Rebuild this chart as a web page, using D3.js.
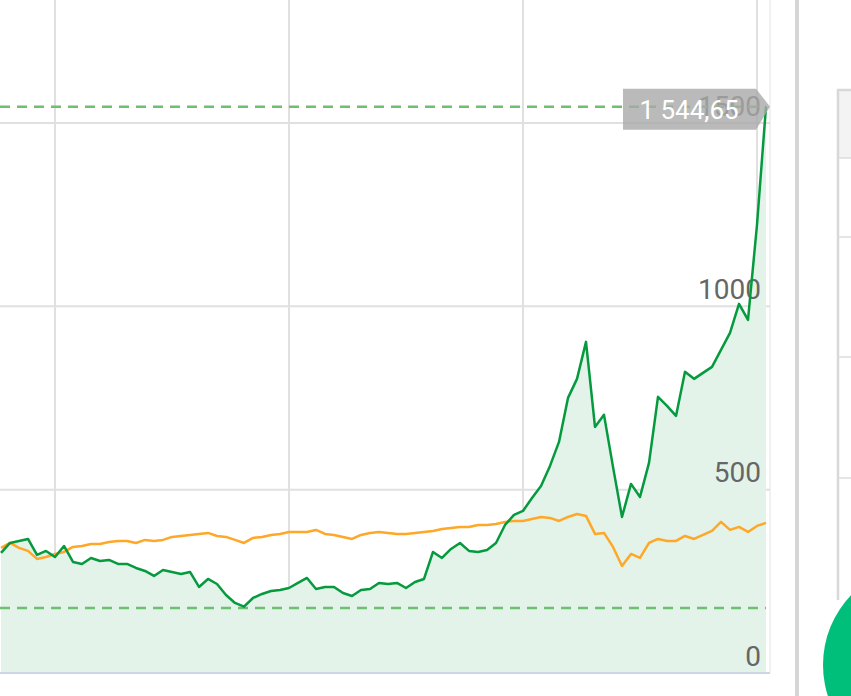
<!DOCTYPE html>
<html>
<head>
<meta charset="utf-8">
<script src="https://cdn.jsdelivr.net/npm/d3@7"></script>
<style>
  html, body { margin: 0; padding: 0; background: #fff; }
  svg { display: block; font-family: Roboto, "Noto Sans", sans-serif; }
</style>
</head>
<body>
<svg id="chart" width="851" height="696"></svg>
<script>
// ---- data ----
const priceSeries = [
  327.4, 354.7, 360.2, 365.6, 322, 332.9, 316.5, 346.5, 302.9, 297.4,
  313.8, 305.6, 308.3, 297.4, 297.4, 286.5, 278.3, 264.7, 281, 275.6,
  270.1, 275.6, 234.7, 256.5, 242.8, 212.8, 191, 181, 204.6, 215.6,
  223.7, 226.5, 231.9, 245.6, 259.2, 229.2, 234.7, 234.7, 218.3, 210.1,
  226.5, 229.2, 245.6, 242.8, 245.6, 231.9, 248.3, 256.5, 330.2, 313.8,
  338.3, 354.7, 332.9, 330.2, 335.6, 354.7, 403.8, 431.1, 442, 477.5,
  510.2, 564.8, 630.3, 750.3, 802.2, 903.1, 671.2, 704, 562.1, 425.6,
  515.7, 480.2, 573, 753.1, 728.5, 701.2, 821.3, 802.2, 818.6, 834.9,
  881.3, 927.7, 1006.8, 963.2, 1222.4, 1544.65
];
const benchmarkSeries = [
  341.1, 354.7, 341.1, 332.9, 311.1, 316.5, 324.7, 330.2, 343.8, 346.5,
  352, 352, 357.4, 360.2, 360.2, 354.7, 362.9, 360.2, 362.9, 371.1,
  373.8, 376.5, 379.3, 382, 373.8, 371.1, 362.9, 354.7, 368.3, 371.1,
  376.5, 379.3, 384.7, 384.7, 384.7, 390.2, 379.3, 376.5, 371.1, 365.6,
  376.5, 382, 384.7, 382, 379.3, 379.3, 382, 384.7, 387.4, 392.9,
  395.6, 398.4, 398.4, 403.8, 403.8, 406.5, 412, 414.7, 414.7, 420.2,
  425.6, 422.9, 414.7, 425.6, 433.8, 428.4, 379.3, 382, 343.8, 291.9,
  324.7, 313.8, 354.7, 365.6, 360.2, 360.2, 373.8, 365.6, 376.5, 387.4,
  412, 390.2, 398.4, 384.7, 401.1, 409.3
];
const yTickValues = [0, 500, 1000, 1500];
const yTickLabels = ["0", "500", "1000", "1500"];
const xGridIndices = [6, 32, 58, 84];
const highLevel = 1544.65;
const lowLevel = 177;
const lastLabel = "1 544,65";

// ---- layout ----
const svg = d3.select("#chart");
const plotLeft = 0, plotRight = 770, plotTop = 0, plotBottom = 673;

const x = d3.scaleLinear().domain([0, priceSeries.length - 1]).range([1, 766]);
const y = d3.scaleLinear().domain([0, 1500]).range([673, 123]);

// vertical gridlines
svg.append("g").selectAll("line").data(xGridIndices).join("line")
  .attr("x1", d => x(d)).attr("x2", d => x(d))
  .attr("y1", plotTop).attr("y2", plotBottom)
  .attr("stroke", "#e0e0e0").attr("stroke-width", 2);

// plot right border
svg.append("line").attr("x1", plotRight).attr("x2", plotRight)
  .attr("y1", 0).attr("y2", plotBottom)
  .attr("stroke", "#ececec").attr("stroke-width", 1.5);

// horizontal gridlines
svg.append("g").selectAll("line").data(yTickValues.filter(v => v > 0)).join("line")
  .attr("x1", plotLeft).attr("x2", plotRight)
  .attr("y1", d => y(d)).attr("y2", d => y(d))
  .attr("stroke", "#e0e0e0").attr("stroke-width", 2);

// area under price
const area = d3.area().x((d, i) => x(i)).y0(y(0)).y1(d => y(d));
svg.append("path").datum(priceSeries)
  .attr("d", area).attr("fill", "#e3f3ea");

// bottom axis line
svg.append("line").attr("x1", plotLeft).attr("x2", plotRight)
  .attr("y1", y(0)).attr("y2", y(0))
  .attr("stroke", "#ccd6eb").attr("stroke-width", 2);

// y tick labels
const yAxis = d3.axisLeft(y).tickValues(yTickValues)
  .tickFormat((d, i) => yTickLabels[i]).tickSize(0).tickPadding(0);
const gy = svg.append("g").attr("transform", "translate(761,0)").call(yAxis);
gy.select(".domain").remove();
gy.selectAll("text")
  .attr("font-family", "Roboto, sans-serif")
  .attr("font-size", 28).attr("fill", "#666")
  .attr("text-anchor", "end").attr("dy", "-0.28em");

// dashed high / low levels
svg.append("g").selectAll("line").data([highLevel, lowLevel]).join("line")
  .attr("x1", plotLeft).attr("x2", 766)
  .attr("y1", d => y(d)).attr("y2", d => y(d))
  .attr("stroke", "#6cc070").attr("stroke-width", 2.5)
  .attr("stroke-dasharray", "10,7");

// lines
const line = d3.line().x((d, i) => x(i)).y(d => y(d));
svg.append("path").datum(benchmarkSeries)
  .attr("d", line).attr("fill", "none")
  .attr("stroke", "#ffa726").attr("stroke-width", 2.5)
  .attr("stroke-linejoin", "round");
svg.append("path").datum(priceSeries)
  .attr("d", line).attr("fill", "none")
  .attr("stroke", "#069a3f").attr("stroke-width", 2.5)
  .attr("stroke-linejoin", "round");

// last value flag
const lastX = x(priceSeries.length - 1), lastY = y(priceSeries[priceSeries.length - 1]);
const boxL = 623, boxR = 756, boxT = lastY - 18, boxB = lastY + 23;
svg.append("path")
  .attr("d", `M${boxL},${boxT}H${boxR}L${lastX + 4},${lastY}L${boxR},${boxB}H${boxL}Z`)
  .attr("fill", "#a9a9a9").attr("fill-opacity", 0.8);
svg.append("text").attr("x", 689).attr("y", lastY + 12)
  .attr("text-anchor", "middle").attr("font-size", 26)
  .attr("font-family", "Roboto, sans-serif").attr("fill", "#fff")
  .text(lastLabel);

// neighbouring page elements (decoration)
svg.append("rect").attr("x", 795).attr("y", 0).attr("width", 4).attr("height", 696).attr("fill", "#d6d6d6");
svg.append("rect").attr("x", 838).attr("y", 91).attr("width", 20).attr("height", 67).attr("fill", "#f3f3f3");
svg.append("path").attr("d", "M838,600V90H860").attr("fill", "none").attr("stroke", "#d8d8d8").attr("stroke-width", 2.5);
svg.append("g").selectAll("line").data([158, 237, 357, 478]).join("line")
  .attr("x1", 838).attr("x2", 860).attr("y1", d => d).attr("y2", d => d)
  .attr("stroke", "#dcdcdc").attr("stroke-width", 1.5);
svg.append("circle").attr("cx", 924).attr("cy", 665).attr("r", 101).attr("fill", "#00bf7a");
</script>
</body>
</html>
